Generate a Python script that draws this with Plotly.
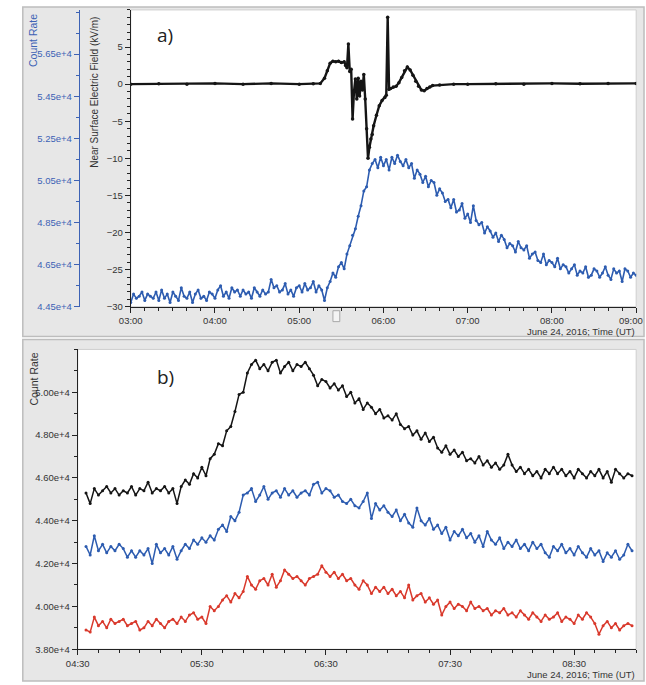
import plotly.graph_objects as go
import pandas as pd
import numpy as np

# ---------------- data ----------------
# Panel a) count rate (thousands of counts), 2-min samples from 03:00
top_count_k = [
    44.7, 45.1, 44.9, 45.0, 45.2, 44.8, 45.1, 45.0, 44.9, 45.2,
    44.8, 45.3, 44.9, 45.1, 44.7, 45.2, 45.0, 44.8, 45.4, 45.0,
    44.9, 45.2, 44.7, 45.1, 45.3, 44.9, 45.0, 44.8, 45.2, 45.1,
    44.9, 45.3, 45.5, 45.0, 45.2, 44.9, 45.4, 45.2, 45.3, 45.0,
    45.3, 45.1, 45.2, 44.9, 45.4, 45.2, 45.0, 45.3, 45.1, 45.2,
    45.8, 45.4, 45.5, 45.2, 45.3, 45.6, 45.1, 45.3, 45.0, 45.4,
    45.5, 45.2, 45.6, 45.3, 45.4, 45.7, 45.2, 45.5, 45.3, 44.8,
    45.4, 45.7, 46.1, 45.9, 46.4, 46.6, 46.3, 47.0, 47.4, 47.9,
    48.2, 48.8, 49.3, 50.0, 50.2, 51.0, 51.3, 51.5, 51.1, 51.6,
    51.2, 51.5, 51.0, 51.6, 51.3, 51.7, 51.4, 51.2, 51.5, 51.1,
    51.3, 50.6, 51.0, 50.8, 50.4, 50.7, 50.2, 50.5, 50.4, 49.8,
    50.1, 49.9, 49.5, 49.6, 49.2, 49.6, 49.0, 49.1, 49.4, 48.7,
    48.9, 48.5, 49.3, 48.6, 48.4, 48.5, 48.0, 48.3, 48.1, 47.8,
    48.0, 47.6, 47.9, 47.7, 47.3, 47.5, 47.4, 47.1, 47.6, 47.3,
    47.2, 47.4, 46.8, 47.0, 47.1, 46.7, 46.6, 47.0, 46.5, 46.7,
    46.6, 46.4, 46.8, 46.3, 46.5, 46.4, 46.1, 46.3, 46.5, 46.0,
    46.2, 46.1, 46.4, 45.9, 46.0, 46.3, 46.2, 45.9, 46.1, 46.4,
    46.0, 45.8, 46.3, 46.1, 46.2, 45.7, 46.3, 46.2, 45.9, 46.1,
    46.0,
]

# Panel a) near-surface electric field (kV/m)
efield_times = [
    "03:00", "03:20", "03:40", "04:00", "04:20", "04:40", "05:00", "05:10",
    "05:15", "05:18", "05:20", "05:22", "05:24", "05:26", "05:28", "05:30",
    "05:32", "05:33", "05:34", "05:35", "05:36", "05:37", "05:38", "05:39",
    "05:40", "05:41", "05:42", "05:43", "05:44", "05:45", "05:46", "05:47",
    "05:48", "05:49", "05:50", "05:51", "05:52", "05:53", "05:55", "05:57",
    "05:59", "06:01", "06:02", "06:03", "06:04", "06:05", "06:07", "06:09",
    "06:11", "06:13", "06:15", "06:17", "06:19", "06:21", "06:23", "06:25",
    "06:27", "06:29", "06:31", "06:33", "06:35", "06:40", "06:50", "07:00",
    "07:20", "07:40", "08:00", "08:20", "08:40", "09:00",
]
efield_vals = [
    0.0, 0.05, 0.0, 0.1, 0.0, 0.1, 0.0, 0.05,
    0.1, 0.8, 1.8, 2.8, 3.1, 3.0, 3.1, 2.9,
    3.0, 2.5, 2.2, 5.4, 1.7, 2.0, -4.7, -1.0,
    0.7, -2.0, 0.8, -1.6, 0.4, -0.8, 1.3, -2.0,
    -6.0, -10.0, -8.5, -7.4, -6.8, -5.6, -4.2, -2.9,
    -2.2, -1.8, -1.5, 9.0, -0.7, -0.6, -0.4, -0.3,
    0.2, 0.9, 1.8, 2.3, 1.9, 1.2, 0.4, -0.3,
    -0.8, -0.9, -0.6, -0.4, -0.2, -0.1, 0.0, 0.0,
    0.05, 0.0, 0.1, 0.05, 0.1, 0.1,
]

# Panel b) three count-rate series (thousands), 2-min samples from 04:34
b_black_k = [
    45.3, 44.8, 45.5, 45.2, 45.4, 45.6, 45.3, 45.5, 45.2, 45.4,
    45.3, 45.6, 45.2, 45.5, 45.4, 45.8, 45.3, 45.5, 45.4, 45.6,
    45.3, 45.5, 44.8,
    45.6, 45.9, 45.7, 46.2, 46.0, 46.5, 46.1, 46.9, 47.1, 47.6,
    47.5, 48.2, 48.4, 49.1, 49.9, 50.0, 50.9, 51.3, 51.5, 51.1,
    51.3, 51.0, 51.4, 51.5, 50.9, 51.2, 51.4, 51.0, 51.3, 51.2,
    51.4, 51.1, 50.8, 50.3, 50.6, 50.5, 50.2, 50.4, 50.1, 50.3,
    49.8, 50.0, 49.5, 49.7, 49.2, 49.5, 49.3, 49.0, 49.2, 48.8,
    48.9, 48.7, 49.0, 48.5, 48.3, 48.4, 48.0, 48.2, 47.8, 48.1,
    47.7, 47.9, 47.4, 47.2, 47.5, 47.1, 47.3, 47.0, 47.2, 46.8,
    46.9, 46.7, 47.0, 46.6, 46.8, 46.5, 46.7, 46.4, 46.6, 47.1,
    46.6, 46.3, 46.5, 46.2, 46.4, 46.1, 46.3, 46.0, 46.4, 46.2,
    46.5, 46.2, 46.4, 46.1, 46.3, 46.0, 46.4, 46.2, 46.0, 46.3,
    46.1, 46.4, 46.0, 46.3, 45.8, 46.4, 46.2, 46.0, 46.2, 46.1,
]
b_blue_k = [
    42.8, 42.4, 43.3, 42.6, 42.9, 42.5, 42.8, 42.6, 42.9, 42.7,
    42.3, 42.6, 42.3, 42.6, 42.4, 42.7, 42.0, 42.9, 42.5, 42.7,
    42.4, 42.8, 42.2,
    42.6, 42.9, 42.7, 43.1, 42.9, 43.2, 43.0, 43.3, 43.1, 43.6,
    43.8, 43.5, 44.2, 44.0, 44.4, 45.2, 45.3, 45.5, 44.9, 45.2,
    45.6, 45.0, 45.3, 45.4, 45.1, 45.5, 45.2, 45.4, 45.1, 45.3,
    45.4, 45.2, 45.7, 45.8, 45.3, 45.5, 45.4, 45.1, 45.2, 44.9,
    44.8, 45.0, 44.7, 44.6, 44.9, 45.3, 44.1, 44.8, 44.5, 44.7,
    44.4, 44.2, 44.5, 44.0, 44.3, 43.9, 43.7, 44.6, 44.0, 43.8,
    44.1, 43.6, 43.8, 43.4, 43.7, 43.1, 43.5, 43.3, 43.6, 43.2,
    43.4, 43.0, 43.3, 42.8, 43.5, 43.1, 42.9, 43.2, 42.7, 43.0,
    42.8, 43.1, 42.7, 42.9, 42.6, 43.0, 42.7, 42.9, 42.5, 42.3,
    42.8, 42.6, 42.9, 42.5, 42.7, 42.4, 42.8, 42.5, 42.3, 42.7,
    42.4, 42.6, 42.1, 42.5, 42.3, 42.6, 42.2, 42.4, 42.9, 42.6,
]
b_red_k = [
    38.9, 38.8, 39.5, 39.1, 39.3, 39.0, 39.4, 39.2, 39.3, 39.4,
    39.1, 39.2, 39.3, 38.9, 39.0, 39.3, 39.1, 39.4, 39.2, 39.0,
    39.3, 39.4, 39.2,
    39.5, 39.3, 39.6, 39.7, 39.4, 39.5, 39.2, 40.0, 39.8, 40.0,
    40.3, 40.5, 40.2, 40.6, 40.4, 40.7, 41.4, 41.0, 40.8, 41.2,
    41.3, 41.0, 41.5, 40.9, 41.2, 41.7, 41.5, 41.3, 41.4, 41.2,
    41.0, 41.3, 41.4, 41.5, 41.9, 41.6, 41.4, 41.6, 41.3, 41.5,
    41.2, 41.3, 41.0, 40.8, 41.2, 41.0, 40.6, 40.9, 40.7, 40.9,
    40.6, 40.8, 40.5, 40.7, 40.4, 41.0, 40.3, 40.5, 40.6, 40.2,
    40.4, 40.1, 40.3, 39.6, 40.0, 40.2, 39.9, 40.1, 40.0, 39.8,
    40.2, 39.9, 40.0, 39.8, 39.9, 39.6, 39.8, 39.7, 39.9, 39.6,
    39.7, 39.5, 39.8, 39.6, 39.4, 39.7, 39.5, 39.3, 39.6, 39.4,
    39.5, 39.7, 39.3, 39.5, 39.4, 39.2, 39.6, 39.4, 39.7, 39.5,
    39.2, 38.7, 39.1, 39.3, 39.0, 39.2, 38.9, 39.1, 39.2, 39.1,
]

top_count_ticks = [44500, 46500, 48500, 50500, 52500, 54500, 56500]
efield_ticks = [-30, -25, -20, -15, -10, -5, 0, 5]
bottom_count_ticks = [38000, 40000, 42000, 44000, 46000, 48000, 50000]
top_time_ticks = ["03:00", "04:00", "05:00", "06:00", "07:00", "08:00", "09:00"]
bottom_time_ticks = ["04:30", "05:30", "06:30", "07:30", "08:30"]
DAY = "2016-06-24 "

# ---------------- figure ----------------
W, H = 646, 685
def px(x): return x / W
def py(y): return 1 - y / H

top_times = pd.date_range(DAY + "03:00", periods=len(top_count_k), freq="2min")
bot_times = pd.date_range(DAY + "04:34", periods=len(b_black_k), freq="2min")

BLUE = "#2d5cb0"
BLACK = "#151515"
RED = "#d9392c"
AXBLUE = "#3c62b5"
TXT = "#333333"
FONT = "Liberation Sans, Arial, sans-serif"

fig = go.Figure()

fig.add_trace(go.Scatter(
    x=top_times, y=np.array(top_count_k) * 1000, xaxis="x", yaxis="y",
    mode="lines+markers", line=dict(color=BLUE, width=1.6),
    marker=dict(color=BLUE, size=3), showlegend=False))
fig.add_trace(go.Scatter(
    x=[DAY + t for t in efield_times], y=efield_vals, xaxis="x", yaxis="y2",
    mode="lines+markers", line=dict(color=BLACK, width=2.4),
    marker=dict(color=BLACK, size=3.5), showlegend=False))

for vals, col in ((b_black_k, BLACK), (b_blue_k, BLUE), (b_red_k, RED)):
    fig.add_trace(go.Scatter(
        x=bot_times, y=np.array(vals) * 1000, xaxis="x3", yaxis="y3",
        mode="lines+markers", line=dict(color=col, width=1.5),
        marker=dict(color=col, size=3), showlegend=False))

tickfont = dict(family=FONT, size=9.5, color=TXT)
common_x = dict(showline=True, linecolor="#222", linewidth=1, ticks="outside",
                ticklen=5, tickcolor="#222", showgrid=False, zeroline=False,
                tickfont=tickfont, tickformat="%H:%M")
common_y = dict(showline=True, linewidth=1, ticks="outside", ticklen=5,
                showgrid=False, zeroline=False)

fig.update_layout(
    width=W, height=H, margin=dict(l=0, r=0, t=0, b=0),
    paper_bgcolor="white", plot_bgcolor="white",
    font=dict(family=FONT, color=TXT),
    xaxis=dict(common_x, domain=[px(121), px(636)], anchor="y2",
               range=[DAY + "03:00", DAY + "09:00"],
               tickvals=[DAY + t for t in top_time_ticks], ticktext=top_time_ticks,
               minor=dict(dtick=600000, tick0=DAY + "03:00", ticks="outside",
                          ticklen=3, tickcolor="#222")),
    yaxis=dict(common_y, domain=[py(309), py(10)], anchor="free", position=px(68),
               side="left", range=[44500, 58600], tickvals=top_count_ticks,
               tickformat=".2e", linecolor=AXBLUE, tickcolor=AXBLUE,
               tickfont=dict(family=FONT, size=9.5, color=AXBLUE),
               minor=dict(dtick=1000, tick0=44500, ticks="outside", ticklen=3,
                          tickcolor=AXBLUE)),
    yaxis2=dict(common_y, domain=[py(309), py(10)], anchor="x", overlaying="y",
                side="left", range=[-30, 10], tickvals=efield_ticks,
                linecolor="#222", tickcolor="#222", tickfont=tickfont,
                minor=dict(dtick=1, ticks="outside", ticklen=3, tickcolor="#222")),
    xaxis3=dict(common_x, domain=[px(67), px(636)], anchor="y3",
                range=[DAY + "04:30", DAY + "09:00"],
                tickvals=[DAY + t for t in bottom_time_ticks], ticktext=bottom_time_ticks,
                minor=dict(dtick=600000, tick0=DAY + "04:30", ticks="outside",
                           ticklen=3, tickcolor="#222")),
    yaxis3=dict(common_y, domain=[py(654), py(352)], anchor="x3",
                range=[38000, 52000], tickvals=bottom_count_ticks, tickformat=".2e",
                linecolor="#222", tickcolor="#222", tickfont=tickfont,
                minor=dict(dtick=1000, tick0=38000, ticks="outside", ticklen=3,
                           tickcolor="#222")),
)

# panel backgrounds
PANEL = "#e7e7e7"
fig.add_shape(type="rect", xref="paper", yref="paper", layer="below",
              x0=px(11), x1=px(644), y0=py(339), y1=py(7),
              fillcolor=PANEL, line=dict(color="#bdbdbd", width=1.5))
fig.add_shape(type="rect", xref="paper", yref="paper", layer="below",
              x0=px(11), x1=px(644), y0=py(686), y1=py(342),
              fillcolor=PANEL, line=dict(color="#bdbdbd", width=1.5))
fig.add_shape(type="rect", xref="paper", yref="paper", layer="below",
              x0=px(121), x1=px(636), y0=py(309), y1=py(10),
              fillcolor="white", line=dict(color="#cfcfcf", width=1))
fig.add_shape(type="rect", xref="paper", yref="paper", layer="below",
              x0=px(67), x1=px(636), y0=py(654), y1=py(352),
              fillcolor="white", line=dict(color="#cfcfcf", width=1))
# small splitter handle
fig.add_shape(type="rect", xref="paper", yref="paper",
              x0=px(327), x1=px(334), y0=py(324), y1=py(313),
              fillcolor="#f4f4f4", line=dict(color="#a8a8a8", width=1))

ann = [
    dict(text="Count Rate", x=px(22), y=py(12), textangle=-90, xanchor="center",
         yanchor="top", font=dict(size=10.5, color=AXBLUE)),
    dict(text="Near Surface Electric Field (kV/m)", x=px(84), y=py(15), textangle=-90,
         xanchor="center", yanchor="top", font=dict(size=10, color=TXT)),
    dict(text="June 24, 2016; Time (UT)", x=px(637), y=py(334), xanchor="right",
         yanchor="middle", font=dict(size=9.5, color=TXT)),
    dict(text="a)", x=px(146), y=py(35), xanchor="left", yanchor="middle",
         font=dict(size=19, color="#222", family="Open Sans")),
    dict(text="Count Rate", x=px(22), y=py(353), textangle=-90, xanchor="center",
         yanchor="top", font=dict(size=10.5, color=TXT)),
    dict(text="b)", x=px(146), y=py(380), xanchor="left", yanchor="middle",
         font=dict(size=19, color="#222", family="Open Sans")),
    dict(text="June 24, 2016; Time (UT)", x=px(637), y=py(679), xanchor="right",
         yanchor="middle", font=dict(size=9.5, color=TXT)),
    # last tick label of panel a), kept inside the window edge
    dict(text=top_time_ticks[-1], x=px(645), y=py(315), xanchor="right",
         yanchor="top", font=dict(size=9.5, color=TXT)),
]
for a in ann:
    a.update(xref="paper", yref="paper", showarrow=False)
    if "family" not in a["font"]:
        a["font"]["family"] = FONT
fig.update_layout(annotations=ann)

fig.write_html("out.html")
